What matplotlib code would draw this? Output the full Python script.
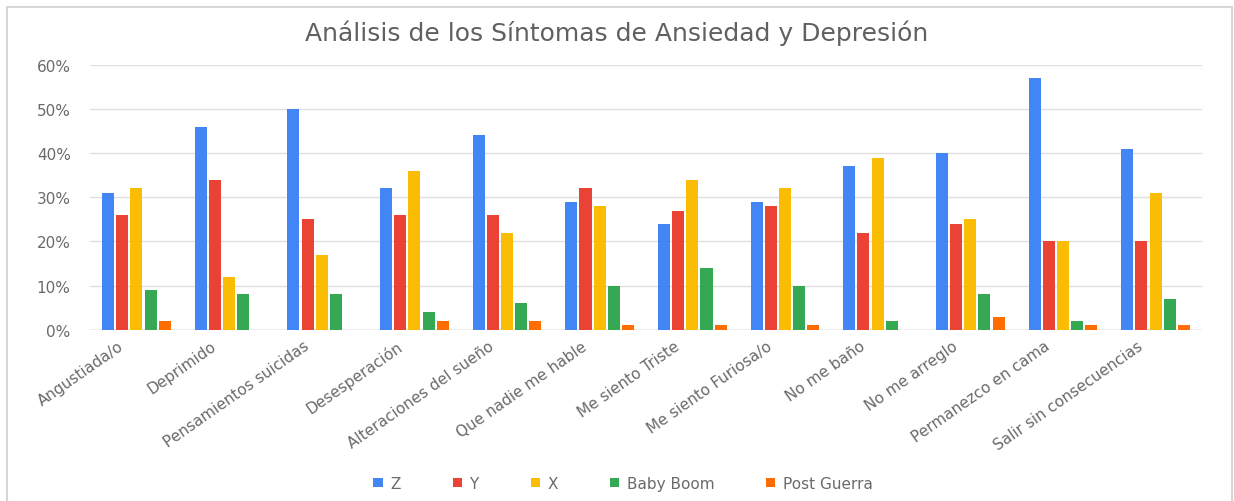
import numpy as np
import matplotlib
matplotlib.use('Agg')
import matplotlib.pyplot as plt
from matplotlib.patches import Rectangle
from matplotlib.ticker import FuncFormatter

# sintomas y porcentajes por generacion
sintomas = ["Angustiada/o", "Deprimido", "Pensamientos suicidas", "Desesperación",
            "Alteraciones del sueño", "Que nadie me hable", "Me siento Triste",
            "Me siento Furiosa/o", "No me baño", "No me arreglo",
            "Permanezco en cama", "Salir sin consecuencias"]
gen_z = [31, 46, 50, 32, 44, 29, 24, 29, 37, 40, 57, 41]
gen_y = [26, 34, 25, 26, 26, 32, 27, 28, 22, 24, 20, 20]
gen_x = [32, 12, 17, 36, 22, 28, 34, 32, 39, 25, 20, 31]
baby_boom = [9, 8, 8, 4, 6, 10, 14, 10, 2, 8, 2, 7]
post_guerra = [2, 0, 0, 2, 2, 1, 1, 1, 0, 3, 1, 1]

series = [("Z", gen_z, "#4285F4"), ("Y", gen_y, "#EA4335"), ("X", gen_x, "#FBBC04"),
          ("Baby Boom", baby_boom, "#34A853"), ("Post Guerra", post_guerra, "#FF6D01")]

plt.rcParams['font.family'] = ['DejaVu Sans']

fig = plt.figure(figsize=(12.34, 5.02), dpi=100)
ax = fig.add_axes([0.073, 0.341, 0.901, 0.528])

x = np.arange(len(sintomas))
step = 0.153
w = 0.13
for i, (name, vals, col) in enumerate(series):
    ax.bar(x + (i - 2) * step, vals, width=w, color=col, label=name, zorder=3)

ax.set_xlim(-0.5, len(sintomas) - 0.5)
ax.set_ylim(0, 60)
ax.set_yticks(range(0, 61, 10))
ax.yaxis.set_major_formatter(FuncFormatter(lambda v, p: f"{int(v)}%"))
ax.grid(axis='y', color='#e0e0e0', linewidth=1, zorder=0)
ax.axhline(0, color='#c8c8c8', linewidth=1, zorder=2)
for s in ax.spines.values():
    s.set_visible(False)
ax.tick_params(axis='both', length=0, colors='#6a6a6a', labelsize=11)
ax.tick_params(axis='y', pad=14)
ax.tick_params(axis='x', pad=6)
ax.set_xticks(x - 0.2)
ax.set_xticklabels(sintomas, rotation=35, ha='right', rotation_mode='anchor')

fig.suptitle("Análisis de los Síntomas de Ansiedad y Depresión", y=0.96,
             fontsize=18, color='#606060')

leg = fig.legend(loc='center', bbox_to_anchor=(0.505, 0.035), ncol=5, frameon=False,
                 fontsize=11, handlelength=0.6, handleheight=0.6, handletextpad=0.5,
                 columnspacing=3.4)
for t in leg.get_texts():
    t.set_color('#6a6a6a')

fig.patches.append(Rectangle((0.006, -0.01), 0.992, 0.995, transform=fig.transFigure,
                             fill=False, edgecolor='#d6d6d6', linewidth=1.5))

fig.savefig("out.png", dpi=100, facecolor='white')
